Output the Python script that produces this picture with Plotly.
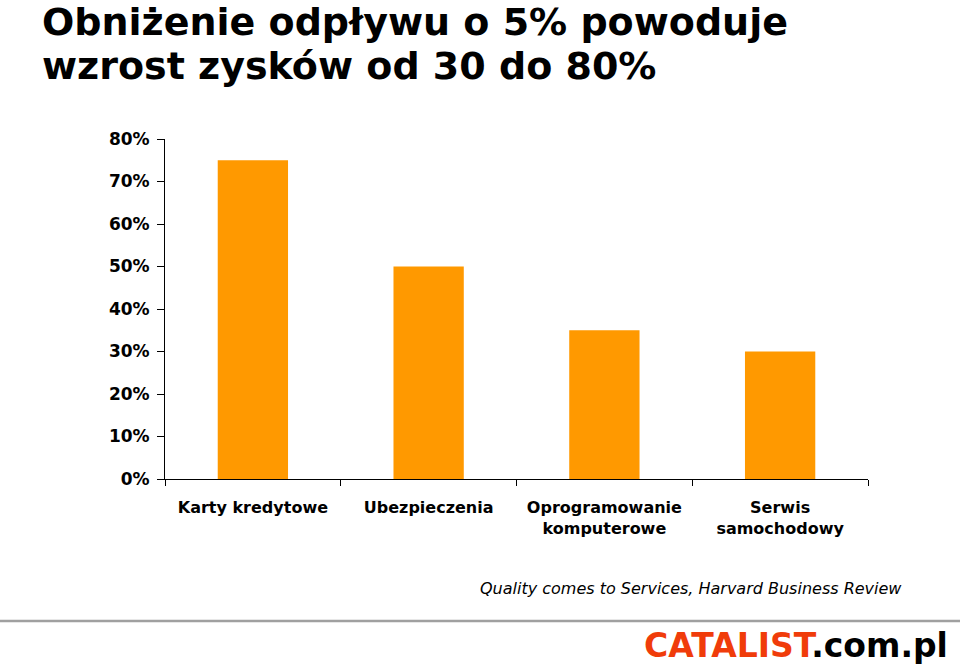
import plotly.graph_objects as go

# Data
categories = ["Karty kredytowe", "Ubezpieczenia", "Oprogramowanie<br>komputerowe", "Serwis<br>samochodowy"]
profit_growth = [0.75, 0.50, 0.35, 0.30]
y_ticks = [0, 0.1, 0.2, 0.3, 0.4, 0.5, 0.6, 0.7, 0.8]

title_lines = ["Obniżenie odpływu o 5% powoduje", "wzrost zysków od 30 do 80%"]
source_text = "Quality comes to Services, Harvard Business Review"

font_main = "DejaVu Sans, sans-serif"

# plot area in page pixels: x 165..868, y 139..479
def px_x(x):
    return (x - 165) / 703

def px_y(y):
    return (479 - y) / 340

fig = go.Figure(go.Bar(
    x=categories,
    y=profit_growth,
    marker=dict(color="#FF9900", line=dict(width=0)),
    width=0.4,
    hoverinfo="skip",
))

fig.update_xaxes(
    showline=True, linecolor="black", linewidth=1,
    ticks="outside", tickson="boundaries", ticklen=6, tickcolor="black",
    ticklabelstandoff=14,
    tickfont=dict(family=font_main, size=16, color="black", weight="bold"),
    showgrid=False,
)
fig.update_yaxes(
    range=[0, 0.8],
    tickvals=y_ticks, tickformat=".0%",
    showline=True, linecolor="black", linewidth=1,
    ticks="outside", ticklen=7, tickcolor="black",
    ticklabelstandoff=4,
    tickfont=dict(family=font_main, size=17, color="black", weight="bold"),
    showgrid=False, zeroline=False,
)

annotations = []
for line, yc in zip(title_lines, [22, 66]):
    annotations.append(dict(
        text=line, xref="paper", yref="paper",
        x=px_x(40), y=px_y(yc), xanchor="left", yanchor="middle",
        showarrow=False,
        font=dict(family=font_main, size=38, color="black", weight="bold")))

annotations.append(dict(
    text=source_text, xref="paper", yref="paper",
    x=px_x(691), y=px_y(588), xanchor="center", yanchor="middle",
    showarrow=False,
    font=dict(family=font_main, size=16, color="black", style="italic")))
annotations.append(dict(
    text="<span style='color:#F03C0A'>CATALIST</span>.com.pl", xref="paper", yref="paper",
    x=px_x(950), y=px_y(645), xanchor="right", yanchor="middle",
    showarrow=False,
    font=dict(family=font_main, size=33, color="black", weight="bold")))

fig.update_layout(
    width=960, height=666,
    margin=dict(l=165, r=92, t=139, b=187),
    plot_bgcolor="white", paper_bgcolor="white",
    showlegend=False,
    annotations=annotations,
    shapes=[
        dict(type="line", xref="paper", yref="paper",
             x0=px_x(0), x1=px_x(960), y0=px_y(621), y1=px_y(621),
             line=dict(color="#A0A0A0", width=2.5)),
    ],
)

fig.write_html("out.html", config={"displayModeBar": False},
               post_script="document.body.style.margin='0';")
